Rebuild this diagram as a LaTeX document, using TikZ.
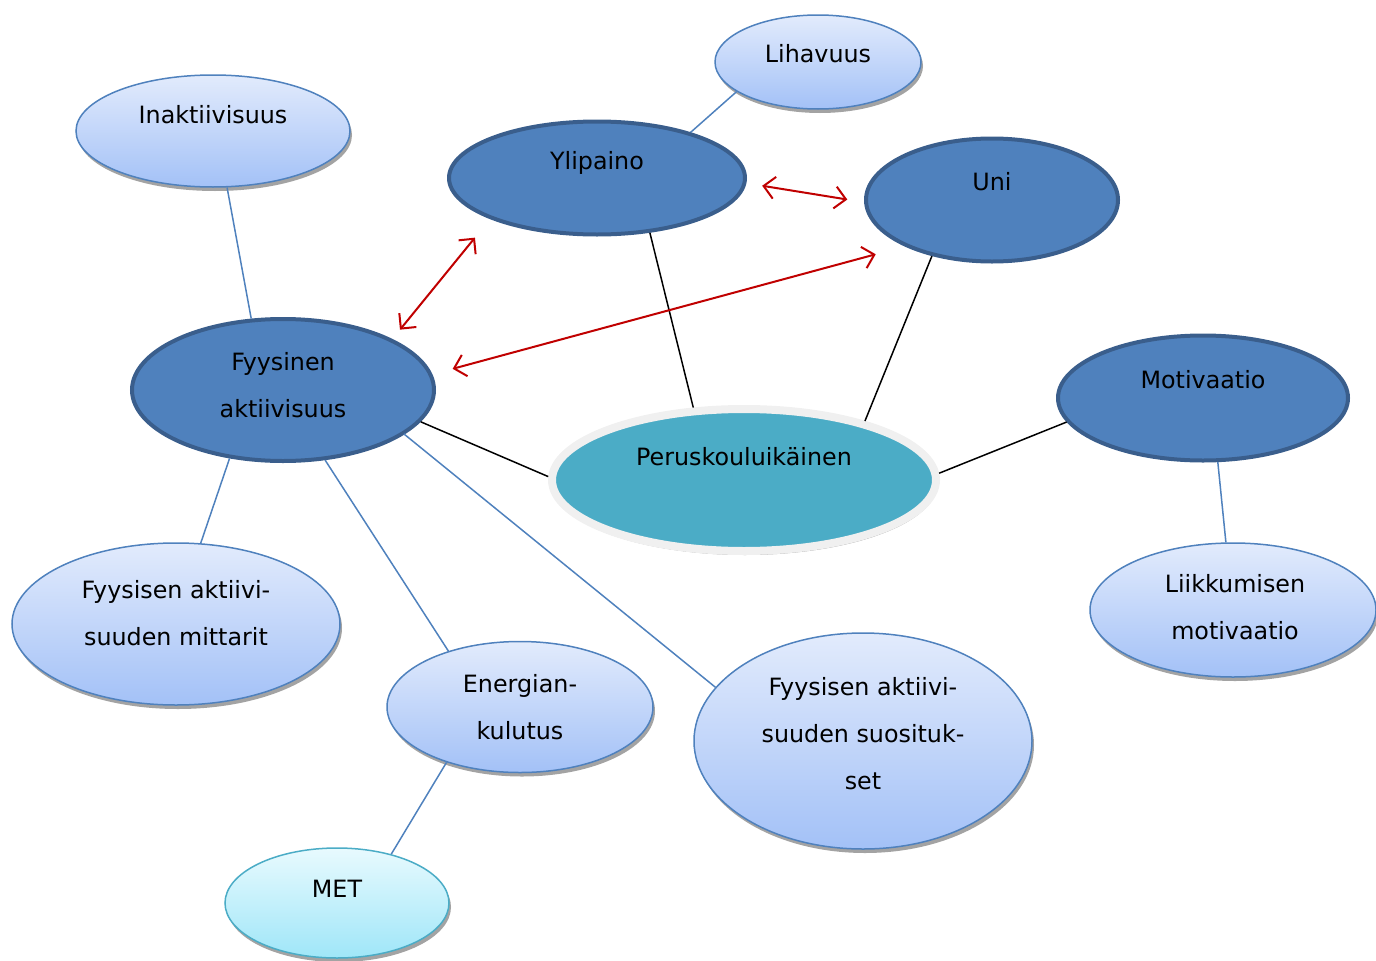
\documentclass[tikz,border=0pt]{standalone}
\usepackage{fontspec}
\setmainfont{DejaVu Sans}
\usetikzlibrary{shapes.geometric,shadows,arrows.meta}
\definecolor{dkfill}{HTML}{4F81BD}
\definecolor{dkline}{HTML}{3A5E8C}
\definecolor{ltline}{HTML}{4F81BD}
\definecolor{lttop}{HTML}{E2EBFC}
\definecolor{ltbot}{HTML}{A3C1F7}
\definecolor{cytop}{HTML}{E8FAFE}
\definecolor{cybot}{HTML}{9FE6F8}
\definecolor{cyline}{HTML}{4BACC6}
\definecolor{tealfill}{HTML}{4BACC6}
\definecolor{ringcol}{HTML}{F0F0F0}
\definecolor{redarr}{HTML}{C00000}
\begin{document}
\begin{tikzpicture}[x=1pt,y=-1pt,
  dark/.style={ellipse, inner sep=0pt, fill=dkfill, draw=dkline, line width=4pt},
  light/.style={ellipse, inner sep=0pt, draw=ltline, line width=1.5pt,
    top color=lttop, bottom color=ltbot,
    drop shadow={shadow xshift=2pt, shadow yshift=-4pt, fill=black!40, opacity=0.9}},
  cyanell/.style={ellipse, inner sep=0pt, draw=cyline, line width=1.5pt,
    top color=cytop, bottom color=cybot,
    drop shadow={shadow xshift=2pt, shadow yshift=-4pt, fill=black!40, opacity=0.9}},
  central/.style={ellipse, inner sep=0pt, fill=tealfill, draw=ringcol, line width=8pt,
    drop shadow={shadow xshift=1pt, shadow yshift=-4pt, fill=black!45, opacity=0.8}},
  lbl/.style={font=\fontsize{23.8}{47}\selectfont, align=center, text=black},
  bl/.style={draw=ltline, line width=1.5pt},
  bk/.style={draw=black, line width=1.5pt},
  rd/.style={draw=redarr, line width=2pt,
    {Straight Barb[length=11pt,width=22pt]}-{Straight Barb[length=11pt,width=22pt]}},
]
\useasboundingbox (0,0) rectangle (1376,961);

% nodes
\node[light, minimum width=206pt, minimum height=94pt,
  label={[lbl,yshift=8pt]center:Lihavuus}] (lih) at (818,62) {};
\node[light, minimum width=274pt, minimum height=112pt,
  label={[lbl,yshift=16pt]center:Inaktiivisuus}] (ina) at (213,131) {};
\node[dark, minimum width=296pt, minimum height=113pt,
  label={[lbl,yshift=15pt]center:Ylipaino}] (ylp) at (597,178) {};
\node[dark, minimum width=252pt, minimum height=123pt,
  label={[lbl,yshift=18pt]center:Uni}] (uni) at (992,200) {};
\node[dark, minimum width=302pt, minimum height=142pt,
  label={[lbl,yshift=4.5pt]center:Fyysinen\\aktiivisuus}] (fya) at (283,390) {};
\node[central, minimum width=384pt, minimum height=142pt,
  label={[lbl,yshift=23pt]center:Peruskouluikäinen}] (per) at (744,480) {};
\node[dark, minimum width=290pt, minimum height=125pt,
  label={[lbl,yshift=18pt]center:Motivaatio}] (mot) at (1203,398) {};
\node[light, minimum width=286pt, minimum height=134pt,
  label={[lbl,yshift=2.5pt,xshift=2pt]center:Liikkumisen\\motivaatio}] (lii) at (1233,610) {};
\node[light, minimum width=328pt, minimum height=162pt,
  label={[lbl,yshift=10.5pt]center:Fyysisen aktiivi-\\suuden mittarit}] (mit) at (176,624) {};
\node[light, minimum width=266pt, minimum height=131pt,
  label={[lbl,yshift=0pt]center:Energian-\\kulutus}] (ene) at (520,707) {};
\node[light, minimum width=338pt, minimum height=216pt,
  label={[lbl,yshift=7pt]center:Fyysisen aktiivi-\\suuden suosituk-\\set}] (suo) at (863,741) {};
\node[cyanell, minimum width=224pt, minimum height=110pt,
  label={[lbl,yshift=14pt]center:MET}] (met) at (337,903) {};

\coordinate (fyin) at ([shift={(121,44)}]fya.center);

% connectors
\draw[bl] (lih.200) -- (ylp.26);
\draw[bl] (ina.284) -- (fya.114);
\draw[bk] (ylp.314) -- (per.125);
\draw[bk] (uni.223) -- (per.26);
\draw[bk] (fya.347) -- (per.179);
\draw[bk] (mot.190) -- (per.2);
\draw[bl] (mot.283) -- (lii.96);
\draw[bl] (fya.232) -- (mit.73);
\draw[bl] (fya.301) -- (ene.142);
\draw[bl] (fyin) -- (suo.160);
\draw[bl] (ene.217) -- (met.42);

% red double arrows
\draw[rd, shorten <=12pt, shorten >=24pt] (fya.25) -- (ylp.201);
\draw[rd, shorten <=21pt, shorten >=30pt] (fya.6) -- (uni.208);
\draw[rd, shorten <=16pt, shorten >=17pt] (ylp.358) -- (uni.181);
\end{tikzpicture}
\end{document}
